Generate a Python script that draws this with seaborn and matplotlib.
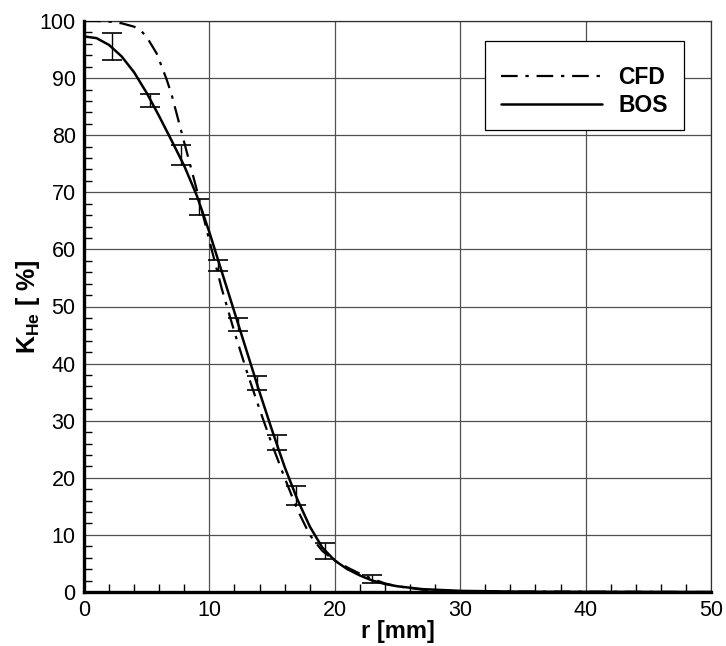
import matplotlib
matplotlib.use("Agg")
import matplotlib.pyplot as plt
import seaborn as sns
import numpy as np
import pandas as pd
from matplotlib.patches import Rectangle
from matplotlib.ticker import MultipleLocator

# ---- data ----
bos_r = [0, 1, 2, 3, 4, 5, 6, 7, 8, 9, 10, 11, 12, 13, 14, 15, 16, 17, 18, 19, 20,
         21, 22, 23, 24, 25, 27, 30, 35, 50]
bos_k = [97.3, 97.0, 95.8, 93.8, 91.0, 87.4, 83.3, 79.0, 74.6, 69.4, 63.0, 56.0, 49.0,
         42.0, 35.0, 28.3, 21.9, 16.3, 11.5, 7.8, 5.5, 4.0, 2.9, 2.0, 1.4, 1.0, 0.5,
         0.2, 0.05, 0.0]

cfd_r = [0, 1, 2, 3, 4, 4.5, 5, 5.8, 6.6, 7, 7.9, 9, 10, 11, 12, 13, 14, 15, 16, 17,
         18, 19, 20, 21, 22, 23, 24, 25, 27, 30, 50]
cfd_k = [100, 100, 99.9, 99.6, 99.0, 98.4, 97.2, 94.3, 89.7, 87.0, 79.5, 70.4, 61.5,
         53.0, 45.5, 38.5, 32.0, 25.8, 20.0, 14.5, 10.0, 7.2, 5.5, 4.3, 3.2, 2.3, 1.5,
         1.0, 0.4, 0.1, 0.0]

err_r = [2.2, 5.3, 7.7, 9.2, 10.7, 12.3, 13.8, 15.4, 16.9, 19.2, 23.0]
err_lo = [93.2, 85.0, 74.7, 66.1, 56.2, 45.7, 35.3, 24.8, 15.2, 5.8, 1.6]
err_hi = [97.9, 87.2, 78.3, 68.9, 58.1, 48.0, 37.8, 27.5, 18.6, 8.6, 3.0]

x_ticks = [0, 10, 20, 30, 40, 50]
y_ticks = [0, 10, 20, 30, 40, 50, 60, 70, 80, 90, 100]

sns.set_theme(style="white")
plt.rcParams["font.family"] = ["Liberation Sans", "DejaVu Sans"]
plt.rcParams["text.color"] = "black"
plt.rcParams["axes.labelcolor"] = "black"
plt.rcParams["xtick.color"] = "black"
plt.rcParams["ytick.color"] = "black"
plt.rcParams["mathtext.fontset"] = "custom"
plt.rcParams["mathtext.rm"] = "Liberation Sans:bold"
plt.rcParams["mathtext.bf"] = "Liberation Sans:bold"
plt.rcParams["mathtext.it"] = "Liberation Sans:bold"

fig = plt.figure(figsize=(7.26, 6.46), dpi=100)
ax = fig.add_axes([84 / 726, 1 - 592 / 646, 627 / 726, 571 / 646])

df_cfd = pd.DataFrame({"r": cfd_r, "K": cfd_k})
df_bos = pd.DataFrame({"r": bos_r, "K": bos_k})

sns.lineplot(data=df_cfd, x="r", y="K", ax=ax, color="black", lw=1.6,
             dashes=False, label="CFD", zorder=3)
ax.lines[-1].set_dashes((7.5, 3.5, 1.5, 3.5))
sns.lineplot(data=df_bos, x="r", y="K", ax=ax, color="black", lw=1.8,
             label="BOS", zorder=3)

mid = [(a + b) / 2 for a, b in zip(err_lo, err_hi)]
half = [(b - a) / 2 for a, b in zip(err_lo, err_hi)]
ax.errorbar(err_r, mid, yerr=half, fmt="none", ecolor="black", elinewidth=1.0,
            capsize=7.2, capthick=1.2, zorder=4)

ax.set_xlim(0, 50)
ax.set_ylim(0, 100)
ax.set_xticks(x_ticks)
ax.set_yticks(y_ticks)
ax.xaxis.set_minor_locator(MultipleLocator(2))
ax.yaxis.set_minor_locator(MultipleLocator(2))
ax.tick_params(which="major", direction="in", length=11, width=2.2, colors="black",
               labelsize=15.5, top=False, right=False)
ax.tick_params(which="minor", direction="in", length=6, width=1.0, colors="black",
               top=False, right=False, left=True, bottom=True)
ax.tick_params(axis="x", which="major", pad=6)
ax.tick_params(axis="y", which="major", pad=6)

ax.grid(True, which="major", color="#505050", lw=0.9)
ax.set_axisbelow(True)

for s in ["left", "bottom"]:
    ax.spines[s].set_linewidth(2.4)
    ax.spines[s].set_color("black")
    ax.spines[s].set_zorder(5)
for s in ["top", "right"]:
    ax.spines[s].set_linewidth(0.9)
    ax.spines[s].set_color("#303030")
    ax.spines[s].set_visible(True)

ax.set_xlabel("r [mm]", fontsize=17, fontweight="bold", labelpad=-1)
ax.set_ylabel(r"$\mathbf{K_{He}}$ [ %]", fontsize=18, fontweight="bold")
ax.yaxis.set_label_coords(-0.067, 0.5)

# legend frame
rect = Rectangle((0.64, 0.809), 0.317, 0.156, transform=ax.transAxes,
                 facecolor="white", edgecolor="black", lw=0.9, zorder=6)
ax.add_patch(rect)
leg = ax.legend(loc="center", bbox_to_anchor=(0.798, 0.877), frameon=False,
                fontsize=16.5, handlelength=4.4, handletextpad=0.7,
                labelspacing=0.2, borderaxespad=0)
for t in leg.get_texts():
    t.set_fontweight("bold")
leg.set_zorder(7)

fig.savefig("out.png", dpi=100)
